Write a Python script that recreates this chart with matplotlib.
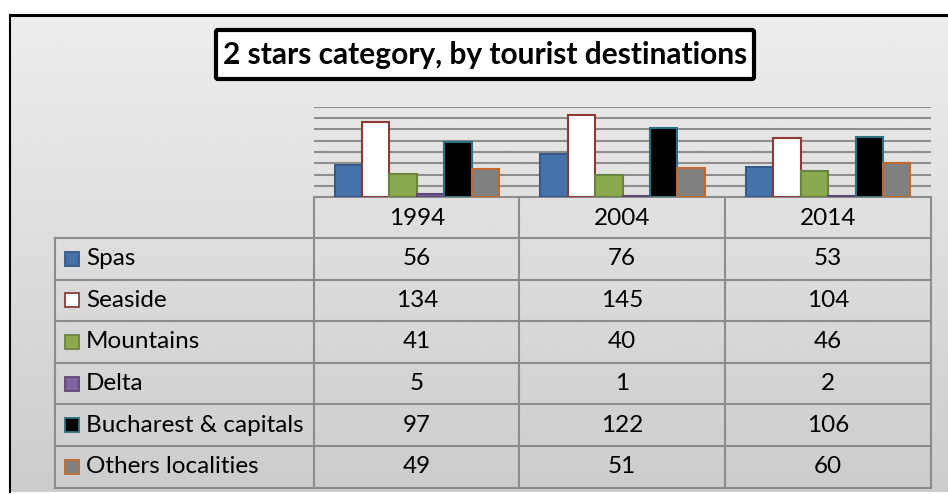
import matplotlib.pyplot as plt
import numpy as np
from matplotlib.patches import Rectangle, FancyBboxPatch

years = ["1994", "2004", "2014"]
destinations = ["Spas", "Seaside", "Mountains", "Delta",
                "Bucharest & capitals", "Others localities"]
spas = [56, 76, 53]
seaside = [134, 145, 104]
mountains = [41, 40, 46]
delta = [5, 1, 2]
bucharest = [97, 122, 106]
others = [49, 51, 60]
values = [spas, seaside, mountains, delta, bucharest, others]

fills = ["#4672ab", "#ffffff", "#8ba94f", "#7f63a1", "#000000", "#808080"]
edges = ["#36598a", "#8e3a38", "#6b843b", "#5d4779", "#2e6f82", "#bf6a2b"]

W, H = 948, 494
fig = plt.figure(figsize=(W / 100, H / 100), dpi=100)

# background axes in pixel coordinates
bg = fig.add_axes([0, 0, 1, 1])
bg.set_xlim(0, W)
bg.set_ylim(H, 0)
bg.axis("off")

grad = np.linspace(0.93, 0.8, 200)[:, None]
bg.imshow(grad, cmap="gray", vmin=0, vmax=1, extent=[10, W, 492, 15],
          aspect="auto", zorder=0)
bg.plot([10, W], [15, 15], color="black", lw=2.2, zorder=1)
bg.plot([10, 10], [15, 492], color="black", lw=1.5, zorder=1)

# title box
bg.add_patch(FancyBboxPatch((216, 30), 538, 49,
                            boxstyle="round,pad=0,rounding_size=2",
                            facecolor="white", edgecolor="black", lw=3, zorder=2))
bg.text(485, 55, "2 stars category, by tourist destinations", ha="center",
        va="center", fontsize=21.5, fontweight="bold", family="Lato", zorder=3)

# data table
lc = "#8c8c8c"
fs = 17.5
col_x = [314, 519.5, 725, 931]
row_y = np.linspace(238, 487.5, len(destinations) + 1)
bg.plot([314, 931], [197, 197], color=lc, lw=1.5, zorder=2)
for y in row_y:
    bg.plot([55, 931], [y, y], color=lc, lw=1.5, zorder=2)
bg.plot([55, 55], [238, 487.5], color=lc, lw=1.5, zorder=2)
for x in col_x:
    bg.plot([x, x], [197, 487.5], color=lc, lw=1.5, zorder=2)

for j, yr in enumerate(years):
    bg.text((col_x[j] + col_x[j + 1]) / 2, 218, yr, ha="center", va="center",
            fontsize=fs, family="Lato", zorder=3)

for i, name in enumerate(destinations):
    yc = (row_y[i] + row_y[i + 1]) / 2
    bg.add_patch(Rectangle((65, yc - 7), 14, 14, facecolor=fills[i],
                           edgecolor=edges[i], lw=1.3, zorder=3))
    bg.text(86, yc, name, ha="left", va="center", fontsize=fs,
            family="Lato", zorder=3)
    for j in range(len(years)):
        bg.text((col_x[j] + col_x[j + 1]) / 2, yc, str(values[i][j]),
                ha="center", va="center", fontsize=fs, family="Lato", zorder=3)

# bar chart
ax = fig.add_axes([314 / W, 1 - 197 / H, 617 / W, 90 / H])
ax.patch.set_alpha(0)
x = np.arange(len(years))
bw = 0.8 / len(destinations)
for i, name in enumerate(destinations):
    ax.bar(x - 0.4 + bw * (i + 0.5), values[i], width=bw, color=fills[i],
           edgecolor=edges[i], linewidth=1.5, zorder=3)
ax.set_xlim(-0.5, 2.5)
ax.set_ylim(0, 160)
ax.set_yticks(range(20, 161, 20))
ax.grid(axis="y", color="#8e8e8e", lw=1.5, zorder=0)
ax.tick_params(left=False, bottom=False, labelleft=False, labelbottom=False)
for s in ax.spines.values():
    s.set_visible(False)

fig.savefig("out.png", dpi=100)
